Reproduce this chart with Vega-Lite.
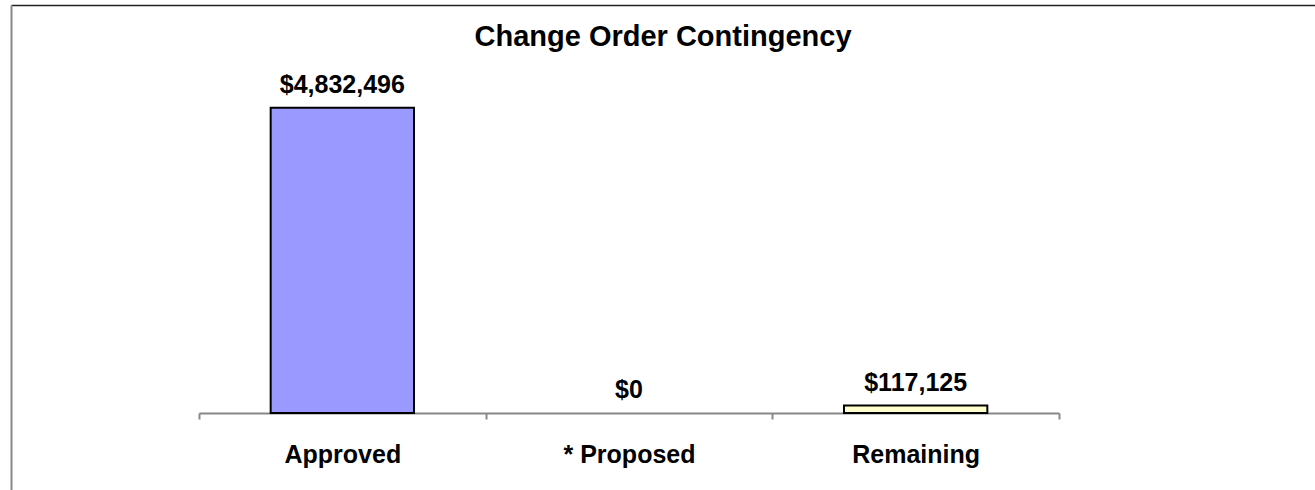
{
  "$schema": "https://vega.github.io/schema/vega-lite/v6.json",
  "width": 1304,
  "height": 485,
  "autosize": {"type": "none"},
  "padding": {"left": 11, "top": 5, "right": 0, "bottom": 0},
  "background": "white",
  "config": {
    "view": {"stroke": null},
    "font": "Liberation Sans"
  },
  "title": {
    "text": "Change Order Contingency",
    "font": "Liberation Sans",
    "fontSize": 29,
    "fontWeight": "bold",
    "color": "#000000",
    "anchor": "middle",
    "frame": "group",
    "offset": -47
  },
  "data": {
    "values": [
      {"category": "Approved", "value": 4832496},
      {"category": "* Proposed", "value": 0},
      {"category": "Remaining", "value": 117125}
    ]
  },
  "layer": [
    {
      "encoding": {
        "x": {
          "field": "category",
          "type": "nominal",
          "sort": null,
          "scale": {"range": [188, 1048], "paddingInner": 0.5, "paddingOuter": 0.25},
          "axis": {
            "orient": "bottom",
            "offset": -77,
            "title": null,
            "domainColor": "#888888",
            "domainWidth": 2,
            "tickColor": "#888888",
            "tickWidth": 2,
            "tickSize": 6,
            "bandPosition": 2,
            "tickExtra": true,
            "tickOffset": -71.67,
            "labelOffset": 71.67,
            "labelFont": "Liberation Sans",
            "labelFontSize": 25,
            "labelFontWeight": "bold",
            "labelColor": "#000000",
            "labelPadding": 23,
            "labelAngle": 0,
            "grid": false
          }
        },
        "y": {
          "field": "value",
          "type": "quantitative",
          "scale": {"domain": [-1220000, 6460000], "nice": false, "zero": false},
          "axis": {
            "title": null,
            "domain": true,
            "domainColor": "#888888",
            "domainWidth": 2,
            "ticks": false,
            "labels": false,
            "grid": false
          }
        }
      },
      "layer": [
        {
          "mark": {"type": "bar", "stroke": "#000000"},
          "encoding": {
            "color": {
              "field": "category",
              "type": "nominal",
              "scale": {"domain": ["Approved", "* Proposed", "Remaining"], "range": ["#9999FF", "#993366", "#FFFFCC"]},
              "legend": null
            },
            "strokeWidth": {"condition": {"test": "datum.value > 0", "value": 2}, "value": 0}
          }
        },
        {
          "mark": {"type": "text", "baseline": "alphabetic", "dy": -15, "font": "Liberation Sans", "fontSize": 25, "fontWeight": "bold", "color": "#000000"},
          "encoding": {
            "text": {"field": "value", "type": "quantitative", "format": "$,.0f"}
          }
        }
      ]
    },
    {
      "mark": {"type": "point", "opacity": 0},
      "encoding": {
        "x": {
          "datum": 0,
          "type": "quantitative",
          "scale": {"domain": [0, 1]},
          "axis": {
            "orient": "top",
            "title": null,
            "domain": true,
            "domainColor": "#222222",
            "domainWidth": 1.5,
            "ticks": false,
            "labels": false,
            "grid": false
          }
        }
      }
    }
  ],
  "resolve": {"scale": {"x": "independent"}, "axis": {"x": "independent"}}
}
